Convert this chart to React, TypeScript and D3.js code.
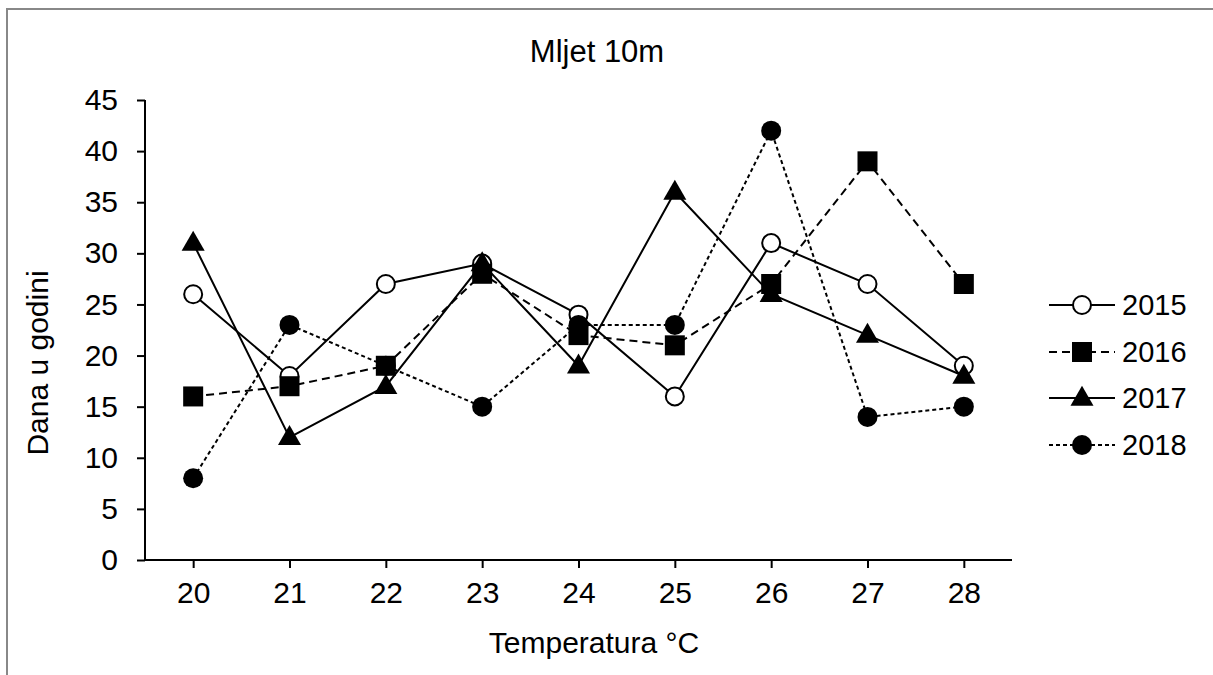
import React, { useRef, useEffect } from 'react';
import * as d3 from 'd3';

const temps = ['20', '21', '22', '23', '24', '25', '26', '27', '28'];
const yTicks = [0, 5, 10, 15, 20, 25, 30, 35, 40, 45];

const v2015 = [26, 18, 27, 29, 24, 16, 31, 27, 19];
const v2016 = [16, 17, 19, 28, 22, 21, 27, 39, 27];
const v2017 = [31, 12, 17, 29, 19, 36, 26, 22, 18];
const v2018 = [8, 23, 19, 15, 23, 23, 42, 14, 15];

type Series = { name: string; values: number[]; dash: string | null; marker: string };

const series: Series[] = [
  { name: '2015', values: v2015, dash: null, marker: 'openCircle' },
  { name: '2016', values: v2016, dash: '8,5', marker: 'square' },
  { name: '2017', values: v2017, dash: null, marker: 'triangle' },
  { name: '2018', values: v2018, dash: '4,3', marker: 'circle' },
];

const W = 1213;
const H = 675;
const font = '"Liberation Sans", Arial, sans-serif';

function drawMarker(g: d3.Selection<SVGGElement, unknown, null, undefined>, kind: string, cx: number, cy: number) {
  if (kind === 'openCircle') {
    g.append('circle').attr('cx', cx).attr('cy', cy).attr('r', 9)
      .attr('fill', '#fff').attr('stroke', '#000').attr('stroke-width', 2);
  } else if (kind === 'circle') {
    g.append('circle').attr('cx', cx).attr('cy', cy).attr('r', 10).attr('fill', '#000');
  } else if (kind === 'square') {
    g.append('rect').attr('x', cx - 10).attr('y', cy - 10).attr('width', 20).attr('height', 20).attr('fill', '#000');
  } else {
    const sym = d3.symbol().type(d3.symbolTriangle).size(230);
    g.append('path').attr('transform', `translate(${cx},${cy + 1})`).attr('d', sym()).attr('fill', '#000');
  }
}

const App: React.FC = () => {
  const ref = useRef<SVGSVGElement | null>(null);

  useEffect(() => {
    if (!ref.current) return;
    const svg = d3.select(ref.current);
    svg.selectAll('*').remove();

    // chart frame (clipped by the window on right/bottom)
    svg.append('rect').attr('x', 7).attr('y', 9).attr('width', W + 20).attr('height', H + 20)
      .attr('fill', '#fff').attr('stroke', '#888').attr('stroke-width', 2);

    const left = 145, right = 1012, top = 100, bottom = 560;

    const x = d3.scalePoint<string>().domain(temps).range([left, right]).padding(0.5);
    const y = d3.scaleLinear().domain([0, 45]).range([bottom, top]);

    // axes
    const yAxis = svg.append('g').attr('transform', `translate(${left},0)`)
      .call(d3.axisLeft(y).tickValues(yTicks).tickSize(8).tickSizeOuter(0).tickPadding(19));
    const xAxis = svg.append('g').attr('transform', `translate(0,${bottom})`)
      .call(d3.axisBottom(x).tickSize(8).tickSizeOuter(0).tickPadding(14));
    [yAxis, xAxis].forEach((a) => {
      a.select('.domain').attr('stroke', '#000').attr('stroke-width', 2);
      a.selectAll('.tick line').attr('stroke', '#000').attr('stroke-width', 2);
      a.selectAll('.tick text').attr('fill', '#000').style('font-family', font).style('font-size', '30px');
    });
    xAxis.select('.domain').attr('d', `M${left},0H${right}`);
    yAxis.select('.domain').attr('d', `M0,${bottom}V${top}`);

    // titles
    svg.append('text').attr('x', 597).attr('y', 62).attr('text-anchor', 'middle')
      .style('font-family', font).style('font-size', '31px').text('Mljet 10m');
    svg.append('text').attr('x', 594).attr('y', 653).attr('text-anchor', 'middle')
      .style('font-family', font).style('font-size', '30px').text('Temperatura °C');
    svg.append('text').attr('transform', `translate(48,363) rotate(-90)`).attr('text-anchor', 'middle')
      .style('font-family', font).style('font-size', '30px').text('Dana u godini');

    const line = d3.line<number>().x((_, i) => x(temps[i])!).y((d) => y(d));

    series.forEach((s) => {
      const g = svg.append('g');
      g.append('path').datum(s.values).attr('fill', 'none').attr('stroke', '#000')
        .attr('stroke-width', 2).attr('stroke-dasharray', s.dash).attr('d', line);
      s.values.forEach((v, i) => drawMarker(g, s.marker, x(temps[i])!, y(v)));
    });

    // legend
    const legY = [305, 352, 398, 445];
    series.forEach((s, i) => {
      const g = svg.append('g');
      const ly = legY[i];
      g.append('line').attr('x1', 1049).attr('x2', 1115).attr('y1', ly).attr('y2', ly)
        .attr('stroke', '#000').attr('stroke-width', 2).attr('stroke-dasharray', s.dash);
      drawMarker(g, s.marker, 1082, ly);
      g.append('text').attr('x', 1122).attr('y', ly + 10).style('font-family', font)
        .style('font-size', '29px').text(s.name);
    });
  }, []);

  return (
    <svg ref={ref} width={W} height={H}
      style={{ position: 'fixed', left: 0, top: 0, display: 'block', background: '#fff' }} />
  );
};

export default App;
